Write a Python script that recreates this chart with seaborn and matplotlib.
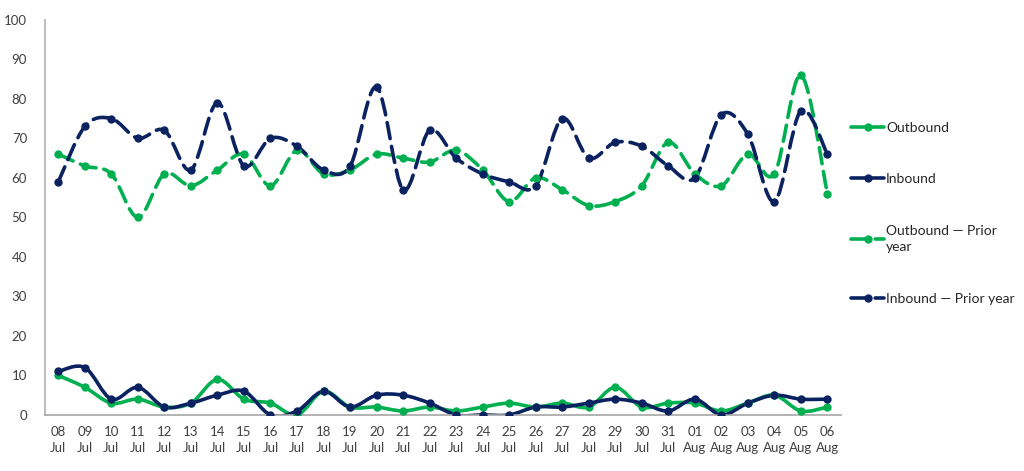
import numpy as np
import pandas as pd
import seaborn as sns
import matplotlib.pyplot as plt
from matplotlib.path import Path
from matplotlib.patches import PathPatch
from matplotlib.lines import Line2D

days = ["08", "09", "10", "11", "12", "13", "14", "15", "16", "17", "18", "19", "20", "21", "22",
        "23", "24", "25", "26", "27", "28", "29", "30", "31", "01", "02", "03", "04", "05", "06"]
months = ["Jul"] * 24 + ["Aug"] * 6

outbound = [10, 7, 3, 4, 2, 3, 9, 4, 3, 0, 6, 2, 2, 1, 2,
            1, 2, 3, 2, 3, 2, 7, 2, 3, 3, 1, 3, 5, 1, 2]
inbound = [11, 12, 4, 7, 2, 3, 5, 6, 0, 1, 6, 2, 5, 5, 3,
           0, 0, 0, 2, 2, 3, 4, 3, 1, 4, 0, 3, 5, 4, 4]
outbound_prior = [66, 63, 61, 50, 61, 58, 62, 66, 58, 67, 61, 62, 66, 65, 64,
                  67, 62, 54, 60, 57, 53, 54, 58, 69, 61, 58, 66, 61, 86, 56]
inbound_prior = [59, 73, 75, 70, 72, 62, 79, 63, 70, 68, 62, 63, 83, 57, 72,
                 65, 61, 59, 58, 75, 65, 69, 68, 63, 60, 76, 71, 54, 77, 66]

GREEN = "#00B050"
NAVY = "#0B2261"

labels = [f"{d}\n{m}" for d, m in zip(days, months)]
x = np.arange(len(labels))


def smooth_path(xs, ys):
    # Bezier segments through the points (Excel-style smoothed line)
    pts = np.column_stack([xs, ys]).astype(float)
    ext = np.vstack([pts[0], pts, pts[-1]])
    verts = [pts[0]]
    codes = [Path.MOVETO]
    for i in range(len(pts) - 1):
        p0, p1, p2, p3 = ext[i], ext[i + 1], ext[i + 2], ext[i + 3]
        c1 = p1 + (p2 - p0) / 6
        c2 = p2 - (p3 - p1) / 6
        verts += [c1, c2, p2]
        codes += [Path.CURVE4] * 3
    return Path(verts, codes)


sns.set_style("white")
plt.rcParams['font.family'] = ['Lato', 'DejaVu Sans']

fig = plt.figure(figsize=(10.24, 4.71), dpi=100)
ax = fig.add_axes([0.044, 0.119, 0.777, 0.839])

series = [
    ("Outbound", outbound, GREEN, "-"),
    ("Inbound", inbound, NAVY, "-"),
    ("Outbound \u2014 Prior\nyear", outbound_prior, GREEN, (0, (4.5, 2.2))),
    ("Inbound \u2014 Prior year", inbound_prior, NAVY, (0, (4.5, 2.2))),
]

handles = []
for name, vals, col, ls in series:
    ax.add_patch(PathPatch(smooth_path(x, vals), facecolor="none", edgecolor=col,
                           lw=2.6, linestyle=ls, capstyle="round", joinstyle="round"))
    df = pd.DataFrame({"x": x, "y": vals})
    sns.scatterplot(data=df, x="x", y="y", ax=ax, color=col, s=36, edgecolor=col,
                    linewidth=0, zorder=3)
    handles.append(Line2D([0], [0], color=col, lw=2.6, linestyle=ls, marker="o",
                          markersize=5, dash_capstyle="round"))

ax.set_xlim(-0.5, len(labels) - 0.5)
ax.set_ylim(0, 100)
ax.set_yticks(range(0, 101, 10))
ax.set_xticks(x)
ax.set_xticklabels(labels, linespacing=1.4)
ax.set_xlabel("")
ax.set_ylabel("")
ax.tick_params(axis="both", length=0, labelsize=9.5, colors="#404040")
ax.tick_params(axis="x", pad=8)
ax.tick_params(axis="y", pad=13)
for s in ["top", "right"]:
    ax.spines[s].set_visible(False)
ax.spines["left"].set_color("#BFBFBF")
ax.spines["bottom"].set_color("#A6A6A6")
ax.spines["left"].set_linewidth(1.5)
ax.spines["bottom"].set_linewidth(1.2)

leg = fig.legend(handles, [s[0] for s in series], loc="upper left",
                 bbox_to_anchor=(0.819, 0.768), frameon=False, fontsize=10,
                 labelspacing=2.85, handlelength=2.4, handletextpad=0.1,
                 labelcolor="#262626")
for t in leg.get_texts():
    t.set_linespacing(1.45)

fig.savefig("out.png", dpi=100)
